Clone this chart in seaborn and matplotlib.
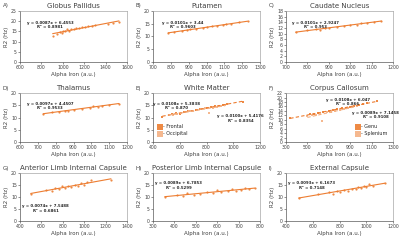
import numpy as np
import seaborn as sns
import matplotlib
matplotlib.use('Agg')
import matplotlib.pyplot as plt

# data (x = alpha iron, y = R2)
gp_x = [905, 950, 975, 990, 1005, 1020, 1040, 1055, 1075, 1100, 1120, 1150, 1180, 1210, 1240, 1270, 1300, 1420, 1470, 1525]
gp_y = [12.9, 13.5, 14.6, 14.0, 15.4, 15.0, 15.9, 15.3, 16.1, 15.9, 16.4, 16.6, 16.9, 17.1, 17.5, 17.8, 17.9, 18.6, 19.2, 19.7]

put_x = [785, 820, 860, 890, 910, 940, 980, 1000, 1030, 1060, 1090, 1110, 1140, 1180, 1230]
put_y = [11.4, 11.8, 12.1, 12.5, 12.9, 12.8, 13.4, 13.5, 13.9, 14.2, 14.6, 14.8, 14.9, 15.5, 16.0]

cn_x = [745, 800, 840, 860, 880, 900, 940, 970, 1000, 1030, 1050, 1080, 1110, 1145]
cn_y = [10.6, 11.1, 11.6, 11.4, 12.0, 11.8, 12.4, 12.6, 13.0, 13.2, 13.6, 13.8, 14.0, 14.6]

th_x = [730, 780, 820, 850, 870, 900, 950, 990, 1010, 1040, 1060, 1100, 1155]
th_y = [11.6, 12.1, 12.4, 12.9, 12.8, 13.2, 13.7, 14.1, 14.6, 14.5, 14.9, 15.2, 15.7]

wmf_x = [470, 540, 570, 600, 630, 660, 690, 720, 750, 770, 800, 830, 860, 890, 920, 950, 1070]
wmf_y = [10.2, 11.4, 11.8, 11.6, 12.3, 12.5, 12.9, 13.1, 13.7, 13.4, 14.0, 14.3, 14.6, 14.8, 15.3, 15.6, 16.3]
wmo_x = [520, 550, 580, 610, 640, 670, 700, 730, 760, 790, 820, 850, 880, 910, 940]
wmo_y = [11.0, 11.2, 11.6, 12.0, 12.1, 12.6, 12.8, 13.3, 13.5, 13.8, 11.9, 14.1, 14.5, 14.9, 15.2]

ccg_x = [340, 520, 560, 600, 650, 700, 740, 780, 820, 860, 900, 940, 980, 1020, 1060, 1150]
ccg_y = [10.9, 12.4, 12.6, 13.0, 13.5, 14.1, 14.3, 14.9, 15.1, 15.5, 15.9, 16.2, 16.8, 17.1, 17.4, 18.5]
ccs_x = [500, 540, 580, 620, 640, 680, 720, 760, 800, 840, 880, 920, 960]
ccs_y = [11.6, 12.0, 12.1, 12.8, 9.6, 13.5, 13.7, 14.0, 14.6, 14.9, 15.3, 15.6, 16.0]

alic_x = [500, 640, 700, 730, 760, 790, 820, 850, 880, 910, 940, 970, 1000, 1030, 1060, 1250]
alic_y = [11.3, 12.8, 12.6, 13.9, 13.2, 14.4, 13.8, 14.6, 14.0, 15.2, 14.7, 15.8, 14.9, 16.1, 17.0, 17.0]

plic_x = [355, 410, 440, 460, 490, 520, 550, 580, 600, 620, 650, 670, 690, 710, 730, 750, 775]
plic_y = [10.0, 11.0, 10.5, 11.6, 10.9, 11.3, 12.2, 11.6, 12.8, 12.1, 12.5, 13.3, 12.7, 13.0, 13.8, 13.2, 13.8]

ec_x = [495, 640, 720, 750, 780, 800, 830, 860, 890, 920, 940, 960, 980, 1000, 1020, 1050, 1140]
ec_y = [9.7, 11.2, 12.0, 11.4, 12.6, 12.2, 13.0, 12.6, 13.5, 13.2, 14.3, 13.6, 14.8, 14.1, 15.4, 14.6, 15.8]

titles = ['Globus Pallidus', 'Putamen', 'Caudate Nucleus', 'Thalamus', 'White Matter',
          'Corpus Callosum', 'Anterior Limb Internal Capsule', 'Posterior Limb Internal Capsule',
          'External Capsule']
letters = ['A)', 'B)', 'C)', 'D)', 'E)', 'F)', 'G)', 'H)', 'I)']

sns.set_theme(style='white')
plt.rcParams['font.family'] = ['DejaVu Sans']

ORANGE = '#ED7D31'
LIGHT = '#F4B183'

fig = plt.figure(figsize=(4, 2.4), dpi=100)

lefts = [0.05, 0.3825, 0.715]
rows = [(0.742, 0.2125), (0.408, 0.204), (0.079, 0.2)]

# per panel: series, x ticks, y ticks, equation texts
panels = [
    ([(gp_x, gp_y, None)], np.arange(600, 1601, 200), np.arange(0, 26, 5),
     [('y = 0.0087x + 6.4553\nR² = 0.8981', 0.28, 0.72)]),
    ([(put_x, put_y, None)], np.arange(700, 1301, 100), np.arange(0, 21, 5),
     [('y = 0.0101x + 3.44\nR² = 0.9603', 0.28, 0.72)]),
    ([(cn_x, cn_y, None)], np.arange(700, 1201, 100), np.arange(0, 19, 2),
     [('y = 0.0101x + 2.9247\nR² = 0.953', 0.28, 0.72)]),
    ([(th_x, th_y, None)], np.arange(600, 1201, 100), np.arange(0, 21, 5),
     [('y = 0.0097x + 4.4507\nR² = 0.9533', 0.28, 0.74)]),
    ([(wmf_x, wmf_y, 'Frontal'), (wmo_x, wmo_y, 'Occipital')], np.arange(400, 1201, 200), np.arange(0, 21, 5),
     [('y = 0.0108x + 5.3838\nR² = 0.870', 0.22, 0.74), ('y = 0.0100x + 5.4176\nR² = 0.8354', 0.82, 0.48)]),
    ([(ccg_x, ccg_y, 'Genu'), (ccs_x, ccs_y, 'Splenium')], np.arange(300, 1301, 200), np.arange(0, 23, 2),
     [('y = 0.0108x + 6.047\nR² = 0.866', 0.58, 0.82), ('y = 0.0089x + 7.1458\nR² = 0.9108', 0.84, 0.55)]),
    ([(alic_x, alic_y, None)], np.arange(400, 1401, 200), np.arange(0, 21, 5),
     [('y = 0.0074x + 7.5488\nR² = 0.6861', 0.24, 0.26)]),
    ([(plic_x, plic_y, None)], np.arange(300, 801, 100), np.arange(0, 21, 5),
     [('y = 0.0089x + 6.7853\nR² = 0.5299', 0.24, 0.74)]),
    ([(ec_x, ec_y, None)], np.arange(400, 1201, 200), np.arange(0, 21, 5),
     [('y = 0.0093x + 6.1673\nR² = 0.7148', 0.24, 0.74)]),
]

for i, (series, xt, yt, eqs) in enumerate(panels):
    row, col = divmod(i, 3)
    bottom, height = rows[row]
    ax = fig.add_axes([lefts[col], bottom, 0.2675, height])
    two = len(series) > 1
    for j, (xs, ys, lab) in enumerate(series):
        c = ORANGE if j == 0 else LIGHT
        sns.regplot(x=xs, y=ys, ax=ax, ci=None, marker='s' if two else 'o',
                    scatter_kws={'s': 2.5, 'color': c, 'linewidths': 0, 'alpha': 0.9},
                    line_kws={'color': c, 'lw': 0.8, 'ls': (0, (3, 2)) if two else '-'},
                    label='- ' + lab if lab else None)
    ax.set_xlim(xt[0], xt[-1])
    ax.set_ylim(yt[0], yt[-1])
    ax.set_xticks(xt)
    ax.set_yticks(yt)
    ax.tick_params(labelsize=3.3, length=1.2, width=0.4, pad=1, colors='#404040')
    ax.tick_params(axis='x', bottom=True)
    ax.tick_params(axis='y', left=True)
    for s in ax.spines.values():
        s.set_color('#a6a6a6')
        s.set_linewidth(0.5)
    ax.spines['left'].set_color('#595959')
    ax.spines['bottom'].set_color('#595959')
    ax.set_xlabel('Alpha Iron (a.u.)', fontsize=4, labelpad=1.5, color='#404040')
    ax.set_ylabel('R2 (Hz)', fontsize=4, labelpad=1.5, color='#404040')
    ax.set_title(titles[i], fontsize=5, pad=2, color='#404040')
    for txt, tx, ty in eqs:
        ax.text(tx, ty, txt, transform=ax.transAxes, fontsize=2.8, fontweight='bold',
                ha='center', va='center', color='#262626', linespacing=1.2)
    if two:
        loc = 'lower left' if i == 4 else 'lower right'
        ax.legend(loc=loc, fontsize=3.5, frameon=False, handlelength=0.6,
                  handletextpad=0.3, labelspacing=0.4, markerscale=2.5,
                  borderaxespad=0.8)
    # panel letter, level with the title
    ax.text(-0.16, 1.05, letters[i], transform=ax.transAxes, fontsize=4,
            color='#404040', ha='left', va='bottom')

fig.savefig('out.png', dpi=100)
